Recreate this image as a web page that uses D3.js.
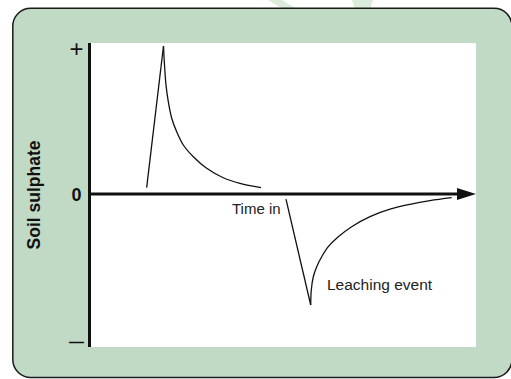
<!DOCTYPE html>
<html>
<head>
<meta charset="utf-8">
<script src="https://cdn.jsdelivr.net/npm/d3@7"></script>
<style>
  html, body { margin: 0; padding: 0; background: #ffffff; }
  svg { display: block; }
  text { font-family: "Liberation Sans", Arial, sans-serif; }
</style>
</head>
<body>
<svg id="chart" width="511" height="379"></svg>
<script>
// ---- data (time in arbitrary units 0..100, soil sulphate in relative units -1..1) ----
const yTickValues = [1, 0, -1];
const yTickLabels = ["+", "0", "\u2014"];
const axisLabel = "Soil sulphate";
const timeLabel = "Time in";
const eventLabel = "Leaching event";

// pulse of sulphate : sharp rise then decay
const pulseRiseT = [14.9, 19.25];
const pulseRiseV = [0.043, 1.0];
const pulseDecayT = [19.25, 19.46, 19.90, 20.49, 21.37, 22.66, 24.37, 26.95, 30.41, 34.70, 39.02, 44.44];
const pulseDecayV = [1.0, 0.894, 0.736, 0.624, 0.512, 0.421, 0.331, 0.252, 0.174, 0.110, 0.072, 0.043];

// leaching event : sharp fall then recovery
const leachFallT = [50.9, 57.29];
const leachFallV = [-0.034, -0.75];
const leachRecoverT = [57.29, 57.44, 57.96, 58.84, 60.13, 61.83, 64.42, 67.88, 72.61, 77.78, 82.95, 88.11, 93.72];
const leachRecoverV = [-0.75, -0.649, -0.559, -0.491, -0.424, -0.356, -0.289, -0.221, -0.153, -0.103, -0.070, -0.045, -0.025];

// ---- layout ----
const svg = d3.select("#chart");
const plot = { left: 88, top: 43, right: 476, bottom: 347 };

const x = d3.scaleLinear().domain([0, 100]).range([89, 476]);
const y = d3.scaleLinear().domain([-1, 1]).range([342, 46]);

// faint watermark shapes at the top
const wm = svg.append("g").attr("fill", "#dcecdc");
wm.append("polygon").attr("points", "268,0 282,0 297,9 283,9");
wm.append("polygon").attr("points", "352,0 373,0 370,9 355,9");

// green panel
svg.append("rect")
  .attr("x", 12.8).attr("y", 8.3)
  .attr("width", 512 - 12.8).attr("height", 377.5 - 8.3)
  .attr("rx", 18).attr("ry", 18)
  .attr("fill", "#c1dac6")
  .attr("stroke", "#1a1a1a").attr("stroke-width", 1.5);

// white plot area
svg.append("rect")
  .attr("x", plot.left).attr("y", plot.top)
  .attr("width", plot.right - plot.left).attr("height", plot.bottom - plot.top)
  .attr("fill", "#ffffff");

// curves
const toPts = (ts, vs) => ts.map((t, i) => [t, vs[i]]);
const lineLin = d3.line().x(d => x(d[0])).y(d => y(d[1])).curve(d3.curveLinear);
const lineCurve = d3.line().x(d => x(d[0])).y(d => y(d[1])).curve(d3.curveCatmullRom.alpha(0.5));

const curves = svg.append("g").attr("fill", "none").attr("stroke", "#111").attr("stroke-width", 1.3)
  .attr("stroke-linejoin", "miter");
curves.append("path").attr("d", lineLin(toPts(pulseRiseT, pulseRiseV)));
curves.append("path").attr("d", lineCurve(toPts(pulseDecayT, pulseDecayV)));
curves.append("path").attr("d", lineLin(toPts(leachFallT, leachFallV)));
curves.append("path").attr("d", lineCurve(toPts(leachRecoverT, leachRecoverV)));

// x axis (time) with arrow
svg.append("line")
  .attr("x1", x(0)).attr("x2", x(100) - 16)
  .attr("y1", y(0)).attr("y2", y(0))
  .attr("stroke", "#111").attr("stroke-width", 3);
svg.append("path")
  .attr("d", `M${x(100) - 19},${y(0) - 6} L${x(100)},${y(0)} L${x(100) - 19},${y(0) + 6} Z`)
  .attr("fill", "#111");

// y axis line
svg.append("line")
  .attr("x1", 89.5).attr("x2", 89.5)
  .attr("y1", plot.top).attr("y2", plot.bottom)
  .attr("stroke", "#111").attr("stroke-width", 3);

// y tick labels
const tickG = svg.append("g");
yTickValues.forEach((v, i) => {
  const t = tickG.append("text")
    .attr("x", 76.5)
    .attr("y", y(v))
    .attr("text-anchor", "middle")
    .attr("dominant-baseline", "central")
    .attr("fill", "#111")
    .text(yTickLabels[i]);
  if (i === 0) t.attr("font-size", 24).attr("font-weight", "normal").attr("dy", 2);
  if (i === 1) t.attr("font-size", 18).attr("font-weight", "bold").attr("dy", 1);
  if (i === 2) t.attr("font-size", 15).attr("font-weight", "bold").attr("dy", -1);
});

// y axis title
svg.append("text")
  .attr("transform", `translate(40,${y(0) + 1}) rotate(-90)`)
  .attr("text-anchor", "middle")
  .attr("font-size", 17.5).attr("font-weight", "bold")
  .attr("fill", "#111")
  .text(axisLabel);

// annotations
svg.append("text")
  .attr("x", x(36.95)).attr("y", y(-0.135))
  .attr("font-size", 15).attr("fill", "#222")
  .text(timeLabel);
svg.append("text")
  .attr("x", x(61.5)).attr("y", y(-0.648))
  .attr("font-size", 15.5).attr("fill", "#222")
  .text(eventLabel);
</script>
</body>
</html>
